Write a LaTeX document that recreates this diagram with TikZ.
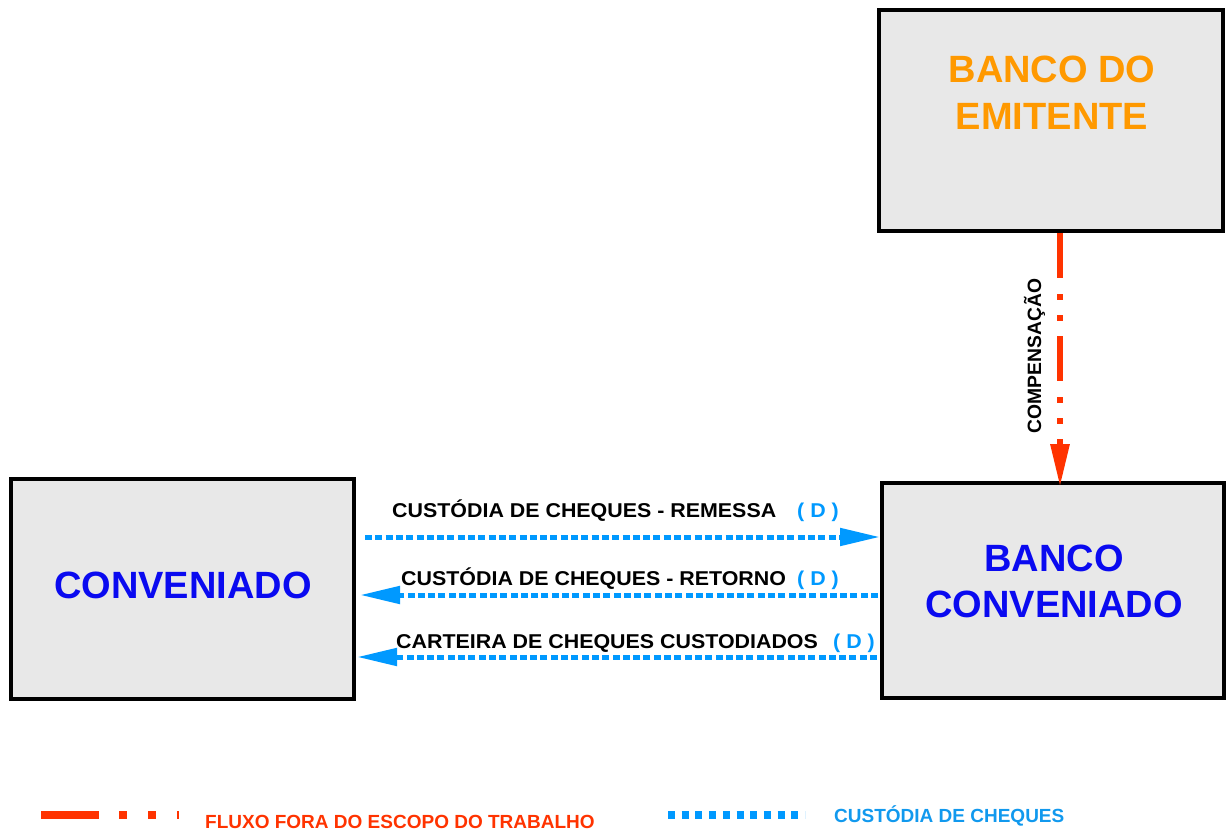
\documentclass[tikz,border=0pt]{standalone}
\usepackage{fontspec}
\setmainfont{Liberation Sans}
\newfontfamily\labelfont[FakeStretch=1.07]{Liberation Sans}
\usetikzlibrary{arrows.meta}
\definecolor{boxfill}{HTML}{E8E8E8}
\definecolor{boxblue}{HTML}{0A0AF0}
\definecolor{boxorange}{HTML}{FF9900}
\definecolor{flowred}{HTML}{FF3300}
\definecolor{flowblue}{HTML}{0099FF}
\definecolor{legblue}{HTML}{1199EE}
\tikzset{
  box/.style={draw=black, line width=4pt, fill=boxfill, rectangle, inner sep=0pt},
  boxtext/.style={font=\bfseries\fontsize{38}{47}\selectfont, inner sep=0pt, align=center},
  flowlabel/.style={font=\labelfont\bfseries\fontsize{20}{24}\selectfont, inner sep=0pt, anchor=base west},
  dlabel/.style={font=\labelfont\bfseries\fontsize{20}{24}\selectfont, text=flowblue, inner sep=0pt, anchor=base west},
  bluearrow/.style={draw=flowblue, line width=5pt, dash pattern=on 7pt off 3.3pt,
     -{Triangle[length=40pt,width=17pt]}},
  redarrow/.style={draw=flowred, line width=6pt,
     dash pattern=on 45pt off 16pt on 6pt off 15pt on 6pt off 15pt,
     -{Triangle[length=43pt,width=18pt]}},
  legendtext/.style={font=\bfseries\fontsize{19}{22}\selectfont, inner sep=0pt, anchor=base west},
}
\begin{document}
\begin{tikzpicture}[x=1pt,y=-1pt]
\useasboundingbox (0,0) rectangle (1227,832);
% boxes
\node[box, minimum width=344pt, minimum height=221pt] (emit) at (1051,120.5) {};
\node[box, minimum width=343pt, minimum height=220pt] (conv) at (182,589) {};
\node[box, minimum width=342pt, minimum height=215pt] (bconv) at (1053,590.5) {};
% box texts
\node[boxtext, text=boxorange, anchor=base] (emitA) at (1052,83) {BANCO DO};
\node[boxtext, text=boxorange, anchor=base] (emitB) at (1052,130) {EMITENTE};
\node[boxtext, text=boxblue, anchor=base] (convT) at (183,598) {CONVENIADO};
\node[boxtext, text=boxblue, anchor=base] (bconvA) at (1054,571) {BANCO};
\node[boxtext, text=boxblue, anchor=base] (bconvB) at (1054,617) {CONVENIADO};
% connector end points
\coordinate (r0) at (1060,233);
\coordinate (r1) at (1060,487);
\coordinate (a1s) at (365,537);
\coordinate (a1e) at (880,537);
\coordinate (a2s) at (878,595);
\coordinate (a2e) at (360,595);
\coordinate (a3s) at (877,657);
\coordinate (a3e) at (357,657);
% connectors
\draw[redarrow] (r0) -- (r1);
\draw[bluearrow] (a1s) -- (a1e);
\draw[bluearrow] (a2s) -- (a2e);
\draw[bluearrow] (a3s) -- (a3e);
% labels
\node[font=\bfseries\fontsize{19.3}{22}\selectfont, rotate=90, inner sep=0pt] (comp) at (1034.5,356) {COMPENSAÇÃO};
\node[flowlabel] (l1) at (392,517) {CUSTÓDIA DE CHEQUES - REMESSA};
\node[dlabel] (d1) at (797,517) {( D )};
\node[flowlabel] (l2) at (401,585) {CUSTÓDIA DE CHEQUES - RETORNO};
\node[dlabel] (d2) at (797,585) {( D )};
\node[flowlabel] (l3) at (396,648) {CARTEIRA DE CHEQUES CUSTODIADOS};
\node[dlabel] (d3) at (833,648) {( D )};
% legend
\coordinate (lr0) at (41,815);
\coordinate (lr1) at (179,815);
\draw[flowred, line width=8pt, dash pattern=on 58pt off 20pt on 8pt off 21pt on 8pt off 21pt on 2pt off 10pt] (lr0) -- (lr1);
\node[legendtext, text=flowred] (lt1) at (205,828) {FLUXO FORA DO ESCOPO DO TRABALHO};
\coordinate (lb0) at (668,815);
\coordinate (lb1) at (805,815);
\draw[flowblue, line width=8pt, dash pattern=on 7pt off 6.7pt] (lb0) -- (lb1);
\node[legendtext, text=legblue] (lt2) at (834,822) {CUSTÓDIA DE CHEQUES};
\end{tikzpicture}
\end{document}
